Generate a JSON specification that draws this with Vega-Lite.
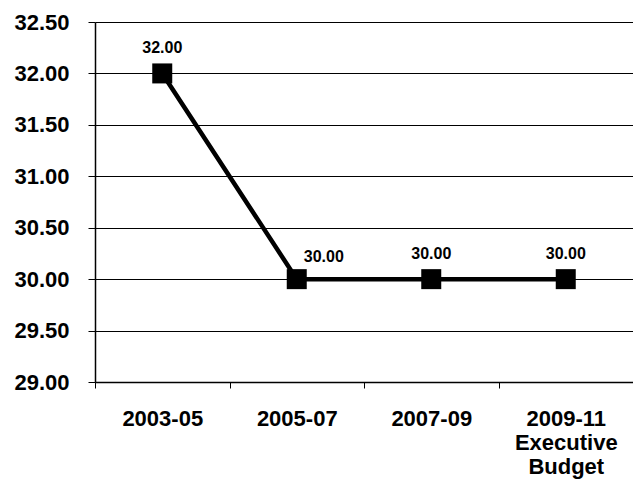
{
  "$schema": "https://vega.github.io/schema/vega-lite/v6.json",
  "autosize": {"type": "none"},
  "width": 538,
  "height": 360,
  "padding": {"left": 95, "top": 22, "right": 0, "bottom": 107},
  "background": "white",
  "config": {
    "view": {"stroke": null},
    "font": "Liberation Sans"
  },
  "data": {
    "values": [
      {"period": "2003-05", "value": 32.0},
      {"period": "2005-07", "value": 30.0},
      {"period": "2007-09", "value": 30.0},
      {"period": "2009-11|Executive|Budget", "value": 30.0}
    ]
  },
  "encoding": {
    "x": {
      "field": "period",
      "type": "nominal",
      "sort": null,
      "scale": {"type": "band", "paddingInner": 0, "paddingOuter": 0},
      "axis": {
        "title": null,
        "labelAngle": 0,
        "labelExpr": "datum.value ? split(datum.value, '|') : ''",
        "labelFont": "Liberation Sans",
        "labelFontWeight": "bold",
        "labelFontSize": 22,
        "labelColor": "black",
        "labelLineHeight": 24,
        "labelPadding": 20,
        "labelBaseline": "top",
        "tickBand": "extent",
        "tickColor": "black",
        "tickSize": 6,
        "domainColor": "black",
        "domainWidth": 1.5,
        "grid": false
      }
    },
    "y": {
      "field": "value",
      "type": "quantitative",
      "scale": {"domain": [29, 32.5], "nice": false, "zero": false},
      "axis": {
        "title": null,
        "values": [29, 29.5, 30, 30.5, 31, 31.5, 32, 32.5],
        "format": ".2f",
        "labelFont": "Liberation Sans",
        "labelFontWeight": "bold",
        "labelFontSize": 22,
        "labelColor": "black",
        "labelPadding": 19,
        "tickColor": "black",
        "tickSize": 7,
        "domainColor": "black",
        "domainWidth": 1.5,
        "grid": true,
        "gridColor": "black",
        "gridWidth": 1,
        "gridOpacity": 1
      }
    }
  },
  "layer": [
    {"mark": {"type": "line", "color": "black", "strokeWidth": 4.5}},
    {"mark": {"type": "square", "color": "black", "size": 400, "opacity": 1, "filled": true}},
    {
      "transform": [{"filter": "datum.period != '2005-07'"}],
      "mark": {"type": "text", "dy": -25, "font": "Liberation Sans", "fontWeight": "bold", "fontSize": 16, "color": "black"},
      "encoding": {"text": {"field": "value", "type": "quantitative", "format": ".2f"}}
    },
    {
      "transform": [{"filter": "datum.period == '2005-07'"}],
      "mark": {"type": "text", "dy": -22, "dx": 27, "font": "Liberation Sans", "fontWeight": "bold", "fontSize": 16, "color": "black"},
      "encoding": {"text": {"field": "value", "type": "quantitative", "format": ".2f"}}
    }
  ]
}
